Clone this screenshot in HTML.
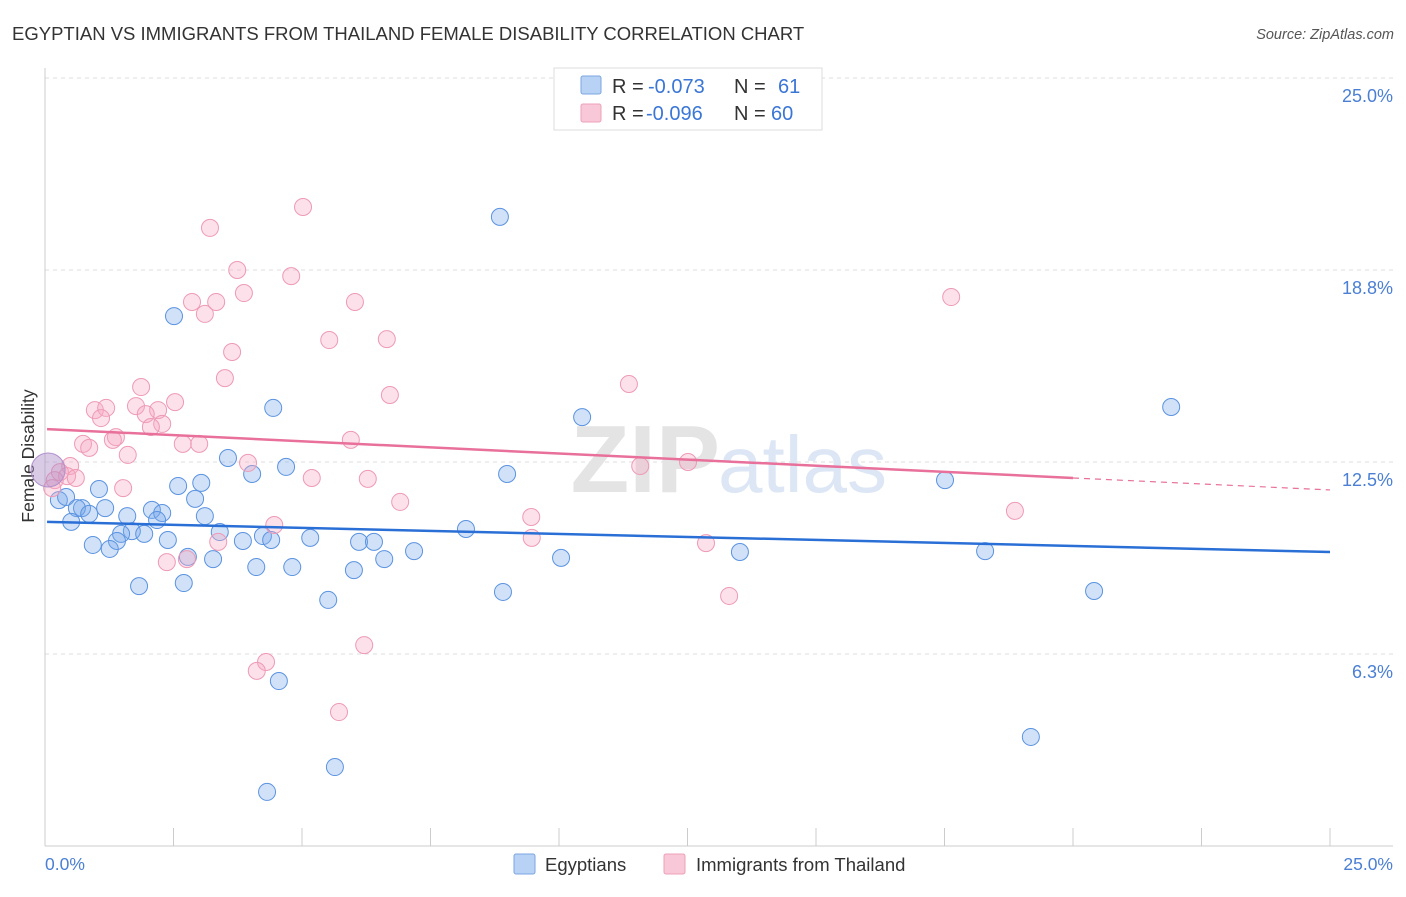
<!DOCTYPE html>
<html><head><meta charset="utf-8"><style>
body{margin:0;background:#fff;font-family:"Liberation Sans",sans-serif;}
svg text{font-family:"Liberation Sans",sans-serif;}
</style></head><body>
<svg width="1406" height="892" viewBox="0 0 1406 892" xmlns="http://www.w3.org/2000/svg">
<text x="12" y="40" font-size="18.5" fill="#333">EGYPTIAN VS IMMIGRANTS FROM THAILAND FEMALE DISABILITY CORRELATION CHART</text>
<text x="1394" y="39" font-size="14.5" fill="#555" font-style="italic" text-anchor="end">Source: ZipAtlas.com</text>
<g id="grid"></g>
<text x="720" y="492" font-size="96" font-weight="bold" fill="#e4e4e4" text-anchor="end" font-family="Liberation Serif">ZIP</text>
<text x="718" y="492" font-size="80" fill="#dce6f5">atlas</text>
<line x1="45" y1="68" x2="45" y2="846" stroke="#ccc"/>
<line x1="45" y1="846" x2="1393" y2="846" stroke="#ccc"/>
<g id="xticks"></g>
<g id="ylabels"></g>
<text x="45" y="870" font-size="17.5" fill="#4a7fd4">0.0%</text>
<text x="1393" y="870" font-size="17.5" fill="#4a7fd4" text-anchor="end">25.0%</text>
<text x="34" y="456" font-size="17.5" fill="#333" text-anchor="middle" transform="rotate(-90 34 456)">Female Disability</text>
<g id="pts"></g>
<g id="lines"></g>
<g>
<rect x="554" y="68" width="268" height="62" fill="#fff" stroke="#ddd"/>
<rect x="581" y="76" width="20" height="18" fill="#b8d2f5" stroke="#7aa6e0" rx="2"/>
<text x="612" y="93" font-size="20" fill="#333">R =</text>
<text x="648" y="93" font-size="20" fill="#3a76d6">-0.073</text>
<text x="734" y="93" font-size="20" fill="#333">N =</text>
<text x="778" y="93" font-size="20" fill="#3a76d6">61</text>
<rect x="581" y="104" width="20" height="18" fill="#f8c8d8" stroke="#eea0b8" rx="2"/>
<text x="612" y="120" font-size="20" fill="#333">R =</text>
<text x="646" y="120" font-size="20" fill="#3a76d6">-0.096</text>
<text x="734" y="120" font-size="20" fill="#333">N =</text>
<text x="771" y="120" font-size="20" fill="#3a76d6">60</text>
</g>
<g>
<rect x="514" y="854" width="21" height="20" fill="#b8d2f5" stroke="#7aa6e0" rx="2"/>
<text x="545" y="871" font-size="18.5" fill="#333">Egyptians</text>
<rect x="664" y="854" width="21" height="20" fill="#f8c8d8" stroke="#eea0b8" rx="2"/>
<text x="696" y="871" font-size="18.5" fill="#333">Immigrants from Thailand</text>
</g>
</svg>
<script>
const yTicks=[6.25,12.5,18.75,25];
const yTickLabels=["6.3%","12.5%","18.8%","25.0%"];
const xTickVals=[0,2.5,5,7.5,10,12.5,15,17.5,20,22.5,25];
const blueX=[8.85,2.51,4.44,10.45,21.91,3.56,4.69,4.03,8.99,17.51,1.05,2.59,3.04,0.27,0.41,2.92,0.72,1.17,0.62,2.08,0.86,2.28,1.60,3.11,2.18,0.51,8.19,3.40,1.69,1.93,1.48,2.39,5.16,1.40,0.93,3.85,4.24,6.11,6.40,1.26,7.18,13.52,18.29,4.40,2.78,3.27,6.60,10.04,4.11,4.81,6.01,1.83,2.70,8.91,20.41,5.51,4.55,19.18,5.64,4.32];
const blueY=[20.48,17.25,14.26,13.96,14.29,12.63,12.34,12.11,12.11,11.91,11.62,11.72,11.82,11.26,11.36,11.30,11.00,11.00,11.00,10.94,10.81,10.84,10.74,10.74,10.61,10.55,10.32,10.22,10.25,10.16,10.16,9.96,10.03,9.93,9.80,9.93,10.09,9.90,9.90,9.67,9.60,9.57,9.60,9.96,9.41,9.34,9.34,9.38,9.08,9.08,8.98,8.46,8.56,8.27,8.30,8.01,5.37,3.55,2.57,1.76];
const pinkX=[5.02,3.21,3.74,4.79,3.87,2.86,3.33,6.03,3.11,17.63,5.53,6.65,3.64,3.50,1.87,11.36,6.71,2.53,0.97,1.19,1.77,2.20,1.09,1.96,2.28,2.06,1.38,0.74,1.32,2.68,3.00,5.95,0.86,1.61,3.95,11.58,12.51,0.49,0.29,0.43,0.19,0.60,5.19,6.28,1.52,6.91,4.46,9.46,18.87,9.47,3.37,12.86,2.76,2.37,13.31,6.21,4.30,4.12,5.72,0.14];
const pinkY=[20.80,20.12,18.75,18.55,18.00,17.71,17.71,17.71,17.32,17.87,16.47,16.50,16.08,15.23,14.94,15.04,14.68,14.45,14.19,14.26,14.32,14.19,13.93,14.06,13.74,13.64,13.31,13.09,13.22,13.09,13.09,13.22,12.96,12.73,12.47,12.37,12.50,12.37,12.17,12.04,11.91,11.98,11.98,11.95,11.65,11.20,10.45,10.71,10.91,10.03,9.90,9.86,9.34,9.24,8.14,6.54,5.99,5.70,4.36,11.65];
const blueTrend=[10.55,9.57];
const pinkTrend=[13.57,11.98,11.59];
const NS="http://www.w3.org/2000/svg";
const xs=v=>45+v*(1285/25), ys=v=>846-v*(768/25);
function mk(tag,attrs,parent){const e=document.createElementNS(NS,tag);for(const k in attrs)e.setAttribute(k,attrs[k]);parent.appendChild(e);return e;}
const grid=document.getElementById('grid'),yl=document.getElementById('ylabels'),xt=document.getElementById('xticks');
yTicks.forEach((t,i)=>{
 const l=mk('line',{x1:45,x2:1393,y1:ys(t),y2:ys(t),stroke:'#ddd','stroke-dasharray':'4,4'},grid);
 
 
 const tx=mk('text',{x:1393,y:ys(t)+24,'font-size':18,fill:'#4a7fd4','text-anchor':'end'},yl);
 tx.textContent=yTickLabels[i];
 
 
});
xTickVals.forEach(v=>{
 const l=mk('line',{x1:xs(v),x2:xs(v),y1:828,y2:846,stroke:'#ccc'},xt);
 
 
});
const pts=document.getElementById('pts');
blueX.forEach((x,i)=>{
 const c=mk('circle',{cx:xs(x),cy:ys(blueY[i]),r:8.5,fill:'rgba(120,170,235,0.35)',stroke:'#5b93e0','stroke-width':1},pts);
 
 
});
pinkX.forEach((x,i)=>{
 const c=mk('circle',{cx:xs(x),cy:ys(pinkY[i]),r:8.5,fill:'rgba(245,170,195,0.35)',stroke:'#ee9ab5','stroke-width':1},pts);
 
 
});
const big=mk('circle',{cx:xs(0.06),cy:ys(12.24),r:17,fill:'rgba(170,140,200,0.45)',stroke:'#b090cc'},pts);


const lines=document.getElementById('lines');
const bl=mk('line',{x1:xs(0.04),y1:ys(blueTrend[0]),x2:xs(25),y2:ys(blueTrend[1]),stroke:'#2a6fd6','stroke-width':2.5},lines);


const pl=mk('line',{x1:xs(0.04),y1:ys(pinkTrend[0]),x2:xs(20),y2:ys(pinkTrend[1]),stroke:'#e8709a','stroke-width':2.5},lines);


const pd=mk('line',{x1:xs(20),y1:ys(pinkTrend[1]),x2:xs(25),y2:ys(pinkTrend[2]),stroke:'#e8709a','stroke-width':1.2,'stroke-dasharray':'6,5'},lines);


</script>
</body></html>
